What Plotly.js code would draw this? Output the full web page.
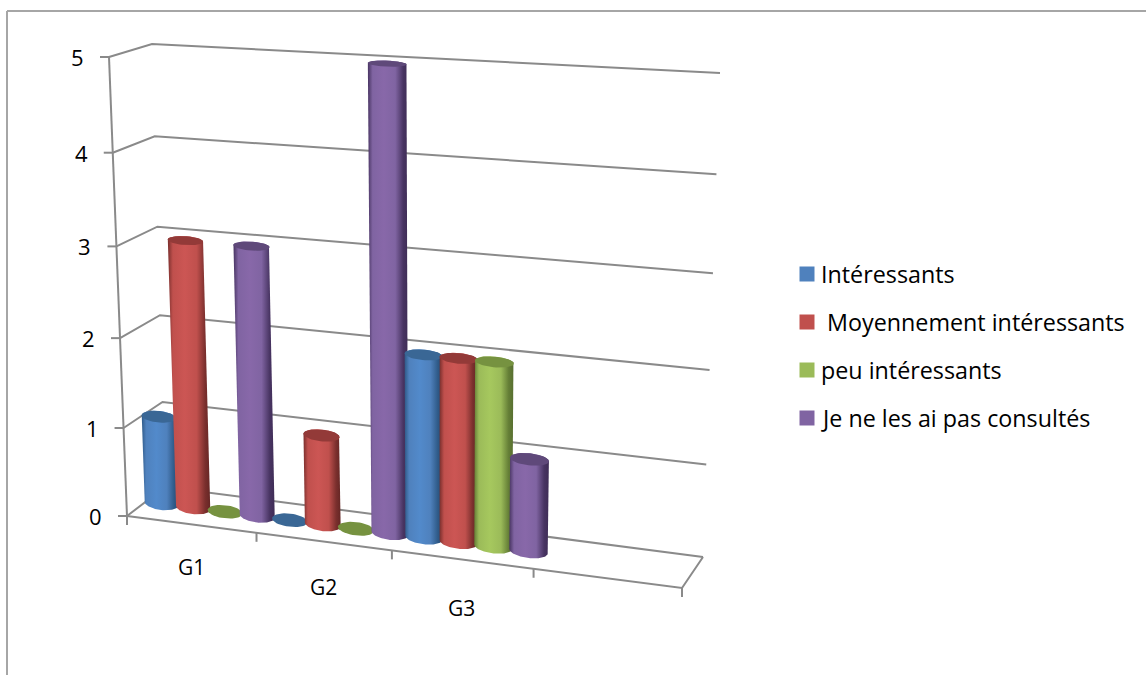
<!DOCTYPE html>
<html><head><meta charset="utf-8">
<script src="https://cdn.plot.ly/plotly-3.0.1.min.js"></script>
<style>html,body{margin:0;padding:0;background:#fff}</style></head>
<body><div id="chart" style="width:1146px;height:675px"></div>
<script>
// ---- data ----
const categories = ['G1','G2','G3'];
const seriesNames = ['Intéressants',' Moyennement intéressants','peu intéressants','Je ne les ai pas consultés'];
const interessants = [1,0,2];
const moyennement = [3,1,2];
const peu = [0,0,2];
const nonConsultes = [3,5,1];
const valueTicks = [0,1,2,3,4,5];
// ---- styles ----
const baseColors = ['#4F81BD','#C0504D','#9BBB59','#8064A2'];
const capColors = ['#3A6795','#933A38','#769240','#5F497A'];
const edgeL = ['#2F5A88','#7A2F2D','#647E36','#483462'];
const midC = ['#528ACB','#CC5654','#A6C85E','#8868A9'];
const edgeR = ['#264B74','#642624','#586F30','#3E2C55'];
const series = [interessants,moyennement,peu,nonConsultes];
// ---- oblique view of the chart box: u along categories 0..4, v value 0..5, d depth 0..1 ----
const uMax = 4, vMax = 5;
const view = {
  front:[[127,516],[682,588],[695,87],[109,57]],
  back:[[165,487],[703,557],[720,73],[152,44]]
};
function homography(q){
  const [[x0,y0],[x1,y1],[x2,y2],[x3,y3]] = q;
  const dx1=x1-x2,dx2=x3-x2,sx=x0-x1+x2-x3,dy1=y1-y2,dy2=y3-y2,sy=y0-y1+y2-y3;
  const den=dx1*dy2-dx2*dy1;
  const g=(sx*dy2-dx2*sy)/den,h=(dx1*sy-sx*dy1)/den;
  const a=x1-x0+g*x1,b=x3-x0+h*x3,d=y1-y0+g*y1,e=y3-y0+h*y3;
  return (s,t)=>{const w=g*s+h*t+1;return [(a*s+b*t+x0)/w,(d*s+e*t+y0)/w];};
}
const hF=homography(view.front),hB=homography(view.back);
function P(u,v,d){
  const f=hF(u/uMax,v/vMax),b=hB(u/uMax,v/vMax);
  return [f[0]+(b[0]-f[0])*d,f[1]+(b[1]-f[1])*d];
}
const traces=[];
function line(pts,w,col){traces.push({type:'scatter',mode:'lines',x:pts.map(p=>p[0]),y:pts.map(p=>p[1]),
  line:{color:col||'#8A8A8A',width:w||2},hoverinfo:'skip',showlegend:false});}
// walls and floor
valueTicks.forEach(v=>{
  line([P(0,v,0),P(0,v,1),P(uMax,v,1)]);
  const a=P(0,v,0);line([[a[0]-9,a[1]],a]);
});
line([P(0,0,0),P(0,vMax,0)]);
line([P(0,0,0),P(uMax,0,0),P(uMax,0,1)]);
for(let u=0;u<=uMax;u++){const a=P(u,0,0);line([a,[a[0],a[1]+9]]);}
// cylinders
const slotW=1/series.length, rU=0.135, rD=0.22, steps=48;
function ellipse(u,v){
  const c=P(u,v,.5),r=P(u+rU,v,.5),l=P(u-rU,v,.5),bk=P(u,v,.5+rD),fr=P(u,v,.5-rD);
  const Ux=[(r[0]-l[0])/2,(r[1]-l[1])/2],Dy=[(bk[0]-fr[0])/2*0.15,(bk[1]-fr[1])/2];
  return t=>[c[0]+Ux[0]*Math.cos(t)+Dy[0]*Math.sin(t),c[1]+Ux[1]*Math.cos(t)+Dy[1]*Math.sin(t)];
}
categories.forEach((cat,ci)=>{
  series.forEach((vals,si)=>{
    const u=ci+(si+.5)*slotW,v=vals[ci];
    const bot=ellipse(u,0),top=ellipse(u,v);
    if(v>0){
      const pts=[];
      for(let i=0;i<=steps;i++)pts.push(bot(Math.PI+Math.PI*i/steps));   // left -> front -> right
      for(let i=0;i<=steps;i++)pts.push(top(2*Math.PI+Math.PI*i/steps)); // right -> back -> left
      pts.push(pts[0]);
      traces.push({type:'scatter',mode:'lines',x:pts.map(p=>p[0]),y:pts.map(p=>p[1]),fill:'toself',
        line:{width:0,color:baseColors[si]},hoverinfo:'skip',showlegend:false,
        fillgradient:{type:'horizontal',colorscale:[[0,edgeL[si]],[.12,baseColors[si]],[.40,midC[si]],[.68,baseColors[si]],[.88,edgeL[si]],[1,edgeR[si]]]}});
    }
    const cap=[];for(let i=0;i<=steps;i++)cap.push(top(2*Math.PI*i/steps));
    traces.push({type:'scatter',mode:'lines',x:cap.map(p=>p[0]),y:cap.map(p=>p[1]),fill:'toself',fillcolor:capColors[si],
      line:{width:0,color:capColors[si]},hoverinfo:'skip',showlegend:false});
  });
});
// legend key
const keyX=807,keyY=274,keyStep=48,keyTextX=821;
traces.push({type:'scatter',mode:'markers',x:seriesNames.map(()=>keyX),y:seriesNames.map((n,i)=>keyY+i*keyStep),
  marker:{symbol:'square',size:15,color:baseColors,line:{width:0}},hoverinfo:'skip',showlegend:false});
const ann=[];
const font='"Open Sans", "Noto Sans", sans-serif';
valueTicks.forEach(v=>{const a=P(0,v,0);
  ann.push({x:a[0]-23,y:a[1],text:String(v),xanchor:'right',yanchor:'middle',showarrow:false,font:{family:font,size:22,color:'#000'}});});
categories.forEach((c,i)=>{const a=P(i+.5,0,0);
  ann.push({x:a[0],y:a[1]+43+3*i,text:c,xanchor:'center',yanchor:'middle',showarrow:false,font:{family:font,size:21,color:'#000'}});});
seriesNames.forEach((n,i)=>ann.push({x:keyTextX,y:keyY+i*keyStep,text:n.replace(/^ /,'\u00A0'),xanchor:'left',yanchor:'middle',xshift:-2,showarrow:false,
  font:{family:font,size:23.3,color:'#000'}}));
ann.forEach(a=>{a.xref='x';a.yref='y';});
const hidden={visible:false,fixedrange:true};
const layout={width:1146,height:675,margin:{l:0,r:0,t:0,b:0},paper_bgcolor:'#fff',plot_bgcolor:'#fff',showlegend:false,
  xaxis:{...hidden,range:[0,1146],domain:[0,1]},yaxis:{...hidden,range:[675,0],domain:[0,1]},
  annotations:ann,
  shapes:[{type:'line',xref:'x',yref:'y',x0:7,y0:11,x1:1146,y1:11,line:{color:'#A6A6A6',width:2}},
          {type:'line',xref:'x',yref:'y',x0:7,y0:11,x1:7,y1:675,line:{color:'#A6A6A6',width:2}}]};
Plotly.newPlot('chart',traces,layout,{staticPlot:true,displayModeBar:false});
</script></body></html>
